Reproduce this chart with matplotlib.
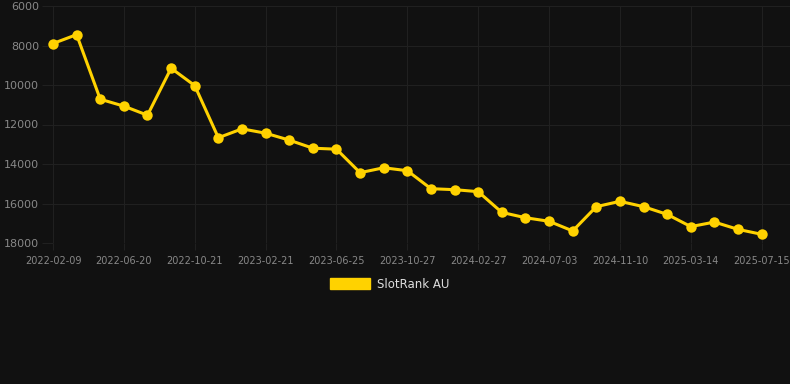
import matplotlib
matplotlib.use("Agg")
import matplotlib.pyplot as plt
from matplotlib.patches import Patch

# rank values (lower rank number = better, axis is inverted)
ranks = [7900, 7450, 10720, 11070, 11530, 9150, 10030, 12670, 12220, 12440,
         12790, 13200, 13250, 14440, 14190, 14340, 15250, 15300, 15400, 16450,
         16720, 16900, 17390, 16160, 15890, 16160, 16550, 17170, 16940, 17310,
         17560]
tick_labels = ["2022-02-09", "2022-06-20", "2022-10-21", "2023-02-21",
               "2023-06-25", "2023-10-27", "2024-02-27", "2024-07-03",
               "2024-11-10", "2025-03-14", "2025-07-15"]
y_ticks = [6000, 8000, 10000, 12000, 14000, 16000, 18000]
series_name = "SlotRank AU"

bg = "#111111"
grid_col = "#202020"
gold = "#FFD200"

fig = plt.figure(figsize=(7.9, 3.84), dpi=100, facecolor=bg)
ax = fig.add_axes([53 / 790, 1 - 243 / 384, 737 / 790, 237 / 384])
ax.set_facecolor(bg)

x = list(range(len(ranks)))
ax.plot(x, ranks, color=gold, lw=2.2, marker="o", ms=7.5,
        markeredgewidth=0, zorder=3, clip_on=False)

ax.set_ylim(18000, 6000)
ax.set_xlim(0, 31.2)
ax.set_yticks(y_ticks)
ax.set_yticklabels([str(v) for v in y_ticks])
ax.set_xticks(x[::3])
ax.set_xticklabels(tick_labels)

ax.grid(True, color=grid_col, lw=0.8)
ax.set_axisbelow(True)
for s in ax.spines.values():
    s.set_visible(False)
ax.tick_params(axis="y", length=8, color=grid_col, labelsize=8,
               labelcolor="#888888", pad=2)
ax.tick_params(axis="x", length=5, color=grid_col, labelsize=7,
               labelcolor="#888888", pad=4)

fig.legend(handles=[Patch(color=gold, label=series_name)],
           loc="center", bbox_to_anchor=(390 / 790, 1 - 284 / 384),
           frameon=False, fontsize=8.5, labelcolor="#dddddd",
           handlelength=3.4, handleheight=1.0, handletextpad=0.6)

fig.savefig("out.png", dpi=100, facecolor=bg)
